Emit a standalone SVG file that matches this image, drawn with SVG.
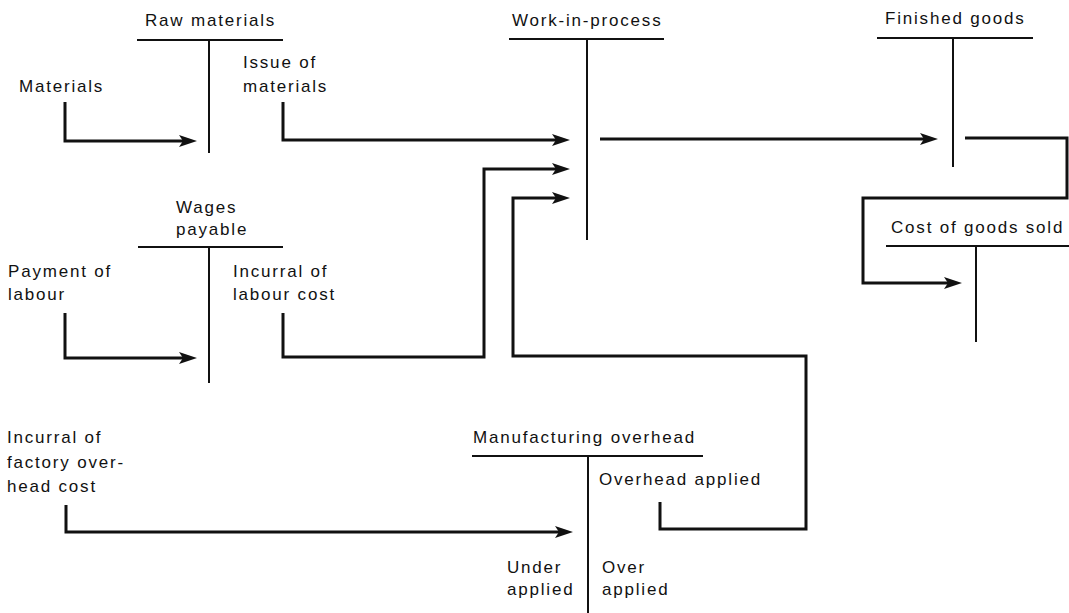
<svg xmlns="http://www.w3.org/2000/svg" width="1069" height="613" viewBox="0 0 1069 613">
  <style>
    text { font-family: "Liberation Sans", Arial, sans-serif; font-size: 17px; letter-spacing: 1.8px; fill: #111; }
    .bar { stroke: #111; stroke-width: 2; fill: none; }
    .flow { stroke: #111; stroke-width: 3; fill: none; stroke-linejoin: miter; }
  </style>
  <defs>
    <marker id="arrow" markerUnits="userSpaceOnUse" markerWidth="20" markerHeight="14" refX="8" refY="6" orient="auto">
      <path d="M0,0 L18,6 L0,12 L4,6 z" fill="#111"/>
    </marker>
  </defs>
  <rect width="1069" height="613" fill="#fff"/>

  <!-- T-accounts -->
  <g id="raw-materials">
    <text x="145" y="26">Raw materials</text>
    <path class="bar" d="M137,40 H283 M209,40 V153"/>
  </g>
  <g id="work-in-process">
    <text x="512" y="26">Work-in-process</text>
    <path class="bar" d="M509,39 H664 M587,39 V240"/>
  </g>
  <g id="finished-goods">
    <text x="885" y="24">Finished goods</text>
    <path class="bar" d="M877,38 H1033 M953,38 V167"/>
  </g>
  <g id="wages-payable">
    <text x="176" y="213">Wages</text>
    <text x="176" y="235">payable</text>
    <path class="bar" d="M138,247 H283 M209,247 V383"/>
  </g>
  <g id="cost-of-goods-sold">
    <text x="891" y="233">Cost of goods sold</text>
    <path class="bar" d="M886,246 H1069 M976,246 V342"/>
  </g>
  <g id="manufacturing-overhead">
    <text x="473" y="443">Manufacturing overhead</text>
    <path class="bar" d="M472,456 H703 M588,456 V613"/>
    <text x="599" y="485">Overhead applied</text>
    <text x="507" y="573">Under</text>
    <text x="507" y="595">applied</text>
    <text x="602" y="573">Over</text>
    <text x="602" y="595">applied</text>
  </g>

  <!-- Source labels -->
  <g id="materials">
    <text x="19" y="92">Materials</text>
  </g>
  <g id="issue-of-materials">
    <text x="243" y="68">Issue of</text>
    <text x="243" y="92">materials</text>
  </g>
  <g id="payment-of-labour">
    <text x="8" y="277">Payment of</text>
    <text x="8" y="300">labour</text>
  </g>
  <g id="incurral-labour">
    <text x="233" y="277">Incurral of</text>
    <text x="233" y="300">labour cost</text>
  </g>
  <g id="incurral-overhead">
    <text x="7" y="443">Incurral of</text>
    <text x="7" y="468">factory over-</text>
    <text x="7" y="492">head cost</text>
  </g>

  <!-- Flows between accounts -->
  <g id="connectors">
    <path class="flow" d="M65,102 V141 H187" marker-end="url(#arrow)"/>
    <path class="flow" d="M283,102 V140 H560" marker-end="url(#arrow)"/>
    <path class="flow" d="M600,139 H928" marker-end="url(#arrow)"/>
    <path class="flow" d="M965,138 H1067 V198 H863 V283 H952" marker-end="url(#arrow)"/>
    <path class="flow" d="M65,313 V358 H187" marker-end="url(#arrow)"/>
    <path class="flow" d="M283,313 V357 H484 V169 H560" marker-end="url(#arrow)"/>
    <path class="flow" d="M66,505 V532 H563" marker-end="url(#arrow)"/>
    <path class="flow" d="M660,502 V529 H806 V356 H513 V198 H560" marker-end="url(#arrow)"/>
  </g>
</svg>
